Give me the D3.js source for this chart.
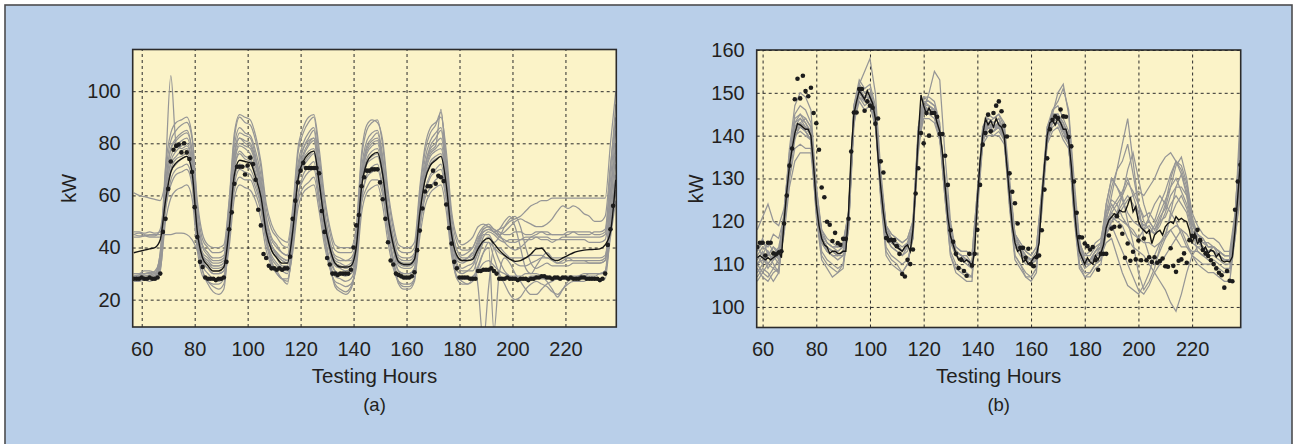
<!DOCTYPE html>
<html>
<head>
<meta charset="utf-8">
<script src="https://cdn.jsdelivr.net/npm/d3@7"></script>
<style>
  body { margin: 0; background: #fff; }
  svg text { font-family: "Liberation Sans", Arial, Helvetica, sans-serif; fill: #231f20; }
</style>
</head>
<body>
<svg id="chart" width="1299" height="444"></svg>
<script>
// ---------- data ----------
var xTicks = [60, 80, 100, 120, 140, 160, 180, 200, 220];
var yTicksA = [20, 40, 60, 80, 100];
var yTicksB = [100, 110, 120, 130, 140, 150, 160];

// panel (a): ensemble runs and mean on a 2-hour grid (57..239), measured kW hourly (57..238)
var hoursA = d3.range(57, 240, 2);
var dotHoursA = d3.range(57, 239);

var actualA = [
  28,28,28,28.5,28,28,28.5,28,28,28.5,
  30,46,51,62.5,73,77.5,79,79.5,76.5,80,
  76.5,74,69,55.5,44,34.5,32.5,28.5,28,28,
  28,27.5,28,28,28.5,34.5,47,53.5,64.5,71,
  71,71,68,71.5,74.5,72,66,54.5,48.5,37.5,
  36,33,32,32,31.5,32,31.5,32,32,36.5,
  51,58,65,69.5,72.5,70.5,70.5,70.5,70.5,70.5,
  68.5,54,46,36,33.5,30,30,29.5,30,30,
  30,30,31.5,40,48.5,52.5,63.5,67,69.5,69.5,
  70,70,70,65,58.5,51,42,35,33.5,30,
  29.5,29,28.5,28.5,28.5,29,30.5,39,46.5,55,
  61.5,63.5,63.5,69.5,64.5,67.5,67,65.5,56.5,47.5,
  41.5,34.5,32,28.5,28.5,28.5,28.5,28,28,28,
  31,31,31.5,31.5,31.5,32,31,30,28,28,
  28,28.5,28,28,28,27.5,28,28,28,27.5,
  28,28,28.5,28.5,29,29,28.5,28.5,28,28.5,
  28.5,28,28.5,28.5,28,28.5,28,28,28,28.5,
  28.5,28,28,28,28,28,27.5,28,30,41,
  47,56
];

var meanA = [
  38,38.5,39,39.5,40, 43,
  58,69,72.5,74,75,69,46,36, 33,31,31,32.5,
  47,68,73.5,73,72.5,67,59.5,46, 39,36,34,34,
  46,66,73,76,77,65,50,40, 34,32.5,32.5,33,
  40,63,72.5,75.5,76.5,68,52,41, 34.5,33.5,33.5,35.5,
  53,66,71.5,73.5,75,64,45,37,
  35,35,35.5,39.5,42.5,43.5,41.5,39,37,35.5,34.7,35,36,37.5,39.5,39.7,37.5,35.5,35,36,37,38,38.6,39,39.2,39.3,39.5,
  41,46,66
];

var runsA = [
  [28,28,28.5,28,28.5, 34, 60,73,77,79,80,73,47,35, 32,30,30,31, 49,73,80,79,78,72,63,47, 39,36,33,33, 45,67,75,79,81,66,49,38, 31,30,30,30, 38,65,76,79,80,70,51,39, 31,30,30,32, 53,69,76,78,80,66,44,34,
   31,31,31,36,42,44,40,35,31,29,28,28,28,29,29,28,28,28,28,28,29,29,29,29,30,30,30, 31,52,72],
  [29,29.5,30,30,31, 36, 65,78,82,84,85,77,52,40, 37,35,35,36, 54,79,86,84,83,77,68,52, 44,41,38,37, 50,72,80,84,86,72,54,43, 36,35,35,35, 43,70,81,84,85,75,56,44, 36,35,35,37, 58,74,81,84,86,71,49,39,
   36,36,37,42,47,48,46,47,50,52,48,40,32,30,33,36,38,36,34,35,36,35,35,35,34,34,34, 35,60,80],
  [28,27.5,28,28.5,28, 31, 54,66,70,71,72,66,42,31, 27,25,24,26, 44,66,72,71,70,65,57,42, 34,30,28,27, 40,60,68,71,73,60,44,33, 26,24,23,25, 34,58,68,71,72,63,46,34, 27,25,25,28, 48,62,68,70,72,60,39,29,
   27,26,27,32,38,42,36,30,26,22,20,21,24,26,27,26,25,23,22,24,26,27,27,27,28,28,28, 28,46,62],
  [30,30,31,31,30.5, 38, 68,81,85,87,88,82,56,43, 40,38,38,39, 57,82,90,88,87,81,71,55, 47,44,41,40, 53,76,84,88,90,75,58,46, 39,38,38,38, 46,74,85,88,89,79,60,47, 39,38,38,40, 61,77,84,87,92,74,52,42,
   39,39,40,45,48,49,47,46,45,45,46,46,45,45,46,46,45,45,45,45,46,46,45,45,45,46,46, 47,70,95],
  [45,45.5,45,44.5,44.5, 47, 62,72,75,77,78,71,49,37, 34,32,32,33, 50,72,79,78,76,71,62,48, 41,37,35,34, 46,67,74,77,78,66,50,39, 33,32,31,32, 40,65,74,77,78,69,52,40, 33,32,32,34, 54,68,75,77,78,66,45,35,
   34,35,36,41,46,47,46,44,43,42,42,43,44,44,44,44,44,43,43,44,44,44,44,44,44,44,44, 45,62,85],
  [46,46,45.5,46,45.5, 46, 56,64,68,69,70,64,43,33, 30,28,27,29, 44,64,70,69,68,63,56,43, 36,33,31,30, 41,60,66,69,70,59,44,34, 29,28,27,28, 35,58,67,69,70,62,46,35, 29,28,28,30, 48,61,67,69,70,59,40,31,
   30,31,33,38,44,46,45,43,42,43,43,43,43,43,44,43,43,42,43,43,43,43,43,43,42,42,42, 43,58,75],
  [45,44.5,44.5,44,44, 44, 45,45,45.5,45.5,45,43,39,34, 32,30,30,31, 44,62,67,66,66,61,54,43, 37,34,32,31, 41,58,63,65,67,57,44,35, 31,30,29,30, 36,57,63,66,66,60,46,36, 31,30,30,32, 48,59,63,66,67,58,41,33,
   32,33,34,38,42,42,40,38,37,36,36,36,36,37,37,37,36,36,36,36,36,36,36,36,36,36,36, 37,52,68],
  [61,60,59.5,59,58.5, 58, 65,75,79,81,82,75,52,41, 38,36,36,37, 53,76,82,81,80,74,66,51, 43,40,38,37, 49,70,78,81,82,70,54,42, 37,36,35,36, 42,68,78,81,82,73,55,43, 37,36,36,38, 56,71,78,80,82,70,48,39,
   37,38,40,44,46,47,46,47,48,50,51,52,54,56,57,58,58,59,59,59,59,59,59,59,59,59,59, 59,80,100],
  [28,28,28,28.5,29, 35, 70,106,80,78,79,72,48,37, 34,33,33,34, 51,75,82,80,79,73,64,49, 41,38,36,35, 47,68,76,80,82,68,51,40, 34,33,32,33, 41,67,77,80,81,72,54,41, 34,33,33,35, 55,71,77,79,93,68,46,36,
   35,36,38,25,4,25,40,40,38,36,34,33,33,34,35,36,36,35,34,34,35,35,35,35,35,35,35, 36,55,78],
  [29,29,29.5,29,29.5, 32, 50,59,62,63,64,59,39,29, 27,26,26,28, 40,59,64,63,62,58,51,39, 33,30,28,28, 38,55,61,63,64,54,41,32, 27,26,25,26, 32,53,61,63,64,56,42,32, 27,26,26,28, 44,56,61,63,64,54,37,29,
   28,28,29,31,34,35,33,31,30,29,29,29,30,30,30,29,27,24,21,24,27,28,29,30,30,30,30, 31,44,58],
  [28.5,29,29,29.5,30, 38, 71,84,88,89,90,83,58,45, 41,40,40,41, 58,84,91,90,89,83,73,57, 49,45,43,42, 55,78,86,90,91,78,60,48, 41,40,40,40, 48,76,87,89,88,81,62,49, 41,40,40,42, 63,79,86,88,90,77,54,44,
   41,42,44,48,49,48,46,45,46,48,50,51,50,49,48,48,49,51,54,56,55,56,55,53,52,50,50, 52,72,90],
  [44,44,44.5,45,45, 45, 60,69,72,74,75,69,48,38, 36,34,34,35, 50,70,76,74,73,68,60,48, 41,38,36,35, 46,65,71,74,76,64,50,40, 35,34,33,34, 41,63,72,74,75,67,51,41, 35,34,34,36, 53,66,72,74,75,64,45,36,
   35,35,36,40,45,45,42,44,48,51,52,48,40,34,32,33,34,33,33,33,33,34,34,34,34,34,34, 35,50,66],
  [27,27,27.5,27,28, 33, 62,78,81,83,84,77,46,31, 26,23,22,24, 46,75,84,83,82,75,64,45, 35,31,28,26, 42,69,78,82,85,68,47,34, 25,23,22,24, 35,66,79,82,84,72,50,35, 26,24,24,27, 52,71,79,82,85,68,40,28,
   26,26,28,33,38,40,8,30,36,34,30,27,24,22,22,24,26,27,28,28,28,28,29,29,29,29,30, 30,48,62],
  [30,30,30,30.5,30, 36, 58,70,74,75,76,70,47,37, 35,33,33,34, 49,70,77,75,74,69,61,48, 41,37,35,34, 46,66,72,75,77,65,50,39, 34,33,32,33, 40,64,73,75,76,68,52,40, 34,33,33,35, 53,67,73,75,76,65,45,36,
   35,36,38,43,47,48,47,45,42,40,39,40,42,44,45,46,46,45,45,45,45,46,46,46,46,45,45, 46,66,88]
];

// panel (b): ensemble runs on a 2-hour grid (58..238), mean and measured kW hourly (58..238)
var hoursB = d3.range(58, 239, 2);
var hourlyB = d3.range(58, 239);

var actualB = [
  114,115,115,112,115,115,112.5,112.3,112.7,113,
  119.5,126,133,137,148.5,153.3,148.7,154,150.4,149.2,
  151.2,145.3,142.9,136.7,127.9,125.6,119.9,119.2,115.4,117.3,
  114.9,114.5,115.9,115.9,120.6,136.3,145.4,145.4,150.9,150.9,
  145.8,148,147,146.5,142.8,144,134,131.4,116.1,115.5,
  115.7,115.6,114.2,112.4,107.7,107.1,111,110,113.4,126.5,
  132.4,140.6,138.2,145.3,140,145.3,145.3,144.4,140.4,140.4,
  135.3,128.5,117.9,115.2,112.4,109.1,111,108.4,107.3,112.4,
  109.7,112.4,118,128.5,137.9,140.6,144.9,141,145.3,147,
  148,145.7,142.3,139.8,131.2,126.9,124.2,119.5,113.8,113.8,
  111.5,113.6,110,109.5,111.6,112,117.9,127.4,134.7,141.5,
  143.7,144.5,144.1,146.1,144.5,144.4,139.7,137.5,129.3,122,
  116.3,116.2,114.8,114.2,113.4,114,110.9,108.7,112.4,112.4,
  112.4,116.7,118.3,118.7,121.2,118.8,117.1,111.5,114.8,110.8,
  112.9,111.1,115.5,110.9,116,110.9,111.6,110.5,111.6,110.3,
  110.7,111.3,109.5,109.4,113.7,109.6,108.2,110.8,111.1,112.5,
  110.3,115.6,116.6,116.4,118,115.6,113.3,112.5,111.9,110.9,
  110,109,108,107.4,104.5,108.4,106.1,106,122.7,129.3,
  133.2
];

var meanB = [
  111.5,112,111.5,111,111.5,111,111.5,112,113,111.5,
  120,127,133,137,140.5,142.8,142.5,142,141.5,141.5,
  140,133,124,119,116,114.5,114,112.5,113,113,
  112.5,112.5,113,113,122,136,145,148,150.5,149.5,
  148.5,150.5,149,147.5,144,135,128,122,117.5,116,
  115.5,114.5,114,113.5,113,114,114.5,113,118,128,
  140,149.5,147,145,146.5,145,145.5,143,141,136,
  128,121,116.5,114.5,112.5,111,111.5,110.5,111,110.5,
  109.5,113,125,134,140,144,142.5,143.5,142,144,
  142.5,142,140,133,126,119,115,113,113.5,110.5,
  111,110,110.5,111.5,112,115,125,133,140,143,
  143.5,142.5,144,143,141.5,141.5,139,133,124,117,
  113,111.5,110,111.5,110.5,110,112,111,112.5,114.5,
  118.5,120.3,121,121.8,121.4,122.6,122.2,122.2,123.8,125.7,
  122.2,123.4,120,118.5,117.9,117.2,117.9,114.8,116.8,117.5,
  117.9,116.8,118.7,119.5,119.9,119.5,121.1,120.3,120.7,120.2,
  119.9,117.9,114.8,117.2,114.8,115.6,113.3,114,112.5,113.3,
  113,111.7,112.5,110.9,110.5,110.7,110.5,111.7,117.9,125.7,
  134.3
];

var runsB = [
  [110,112,109,111,112, 121,134,142,143,141,139,123,115, 113,112,111,112, 121,146,151,149,150,145,127,116, 114,113,112,113, 119,141,148,147,146,140,127,115, 112,111,110,109, 126,141,143,141,143,140,125,114, 112,110,110,111, 126,141,144,145,142,139,123,112,
   109,110,112,113,119,123,125,127,130,126,122,118,119,117,120,121,124,126,124,122,117,115,114,113,114,112,111,111, 119,136],
  [107,109,108,106,108, 118,135,145,147,146,143,125,113, 111,110,109,110, 118,147,153,151,152,147,126,114, 112,111,110,111, 116,142,149,149,148,143,126,113, 110,109,108,107, 124,142,145,144,145,142,124,112, 110,108,107,109, 124,142,146,147,144,141,122,110,
   108,108,110,111,120,126,132,138,144,134,124,116,112,110,113,116,122,128,131,126,118,113,112,111,111,110,109,109, 117,140],
  [113,115,114,117,116, 121,130,137,138,137,137,126,118, 116,115,114,115, 122,143,148,146,147,142,130,119, 117,116,115,116, 120,138,144,144,143,139,130,118, 114,113,113,112, 127,138,140,140,140,138,128,117, 115,113,112,114, 127,138,141,142,139,137,126,115,
   112,112,114,115,121,124,122,124,126,124,121,119,120,118,121,123,128,133,135,130,121,117,115,115,114,113,112,112, 120,132],
  [110,108,110,109,111, 118,130,139,143,144,142,128,117, 113,112,112,113, 118,142,152,155,158,150,132,119, 116,114,113,114, 116,136,146,150,155,153,135,120, 113,112,111,110, 122,138,143,144,145,143,130,117, 114,112,111,112, 122,138,145,150,152,145,128,115,
   111,111,113,115,124,130,128,126,120,115,108,104,106,109,114,117,121,124,126,123,118,116,114,113,113,112,111,111, 121,142],
  [109,107,106,108,109, 119,133,140,141,140,139,121,111, 109,107,108,109, 119,144,149,147,148,143,125,112, 110,109,108,110, 117,139,146,145,144,139,125,112, 108,107,106,106, 124,139,141,140,141,139,123,111, 109,107,106,108, 124,139,142,143,140,138,121,109,
   107,107,109,110,117,119,116,113,110,107,104,103,105,108,110,112,114,116,118,115,112,110,109,108,108,107,106,106, 116,128],
  [118,121,124,120,119, 123,135,143,145,143,141,126,117, 115,114,114,115, 122,146,152,150,150,146,130,119, 117,116,115,116, 120,142,149,148,147,142,130,118, 114,113,113,112, 127,142,144,143,144,141,128,117, 115,113,112,114, 127,142,145,145,143,140,126,115,
   112,113,115,116,122,125,124,126,129,127,124,121,122,120,124,127,131,134,133,129,122,119,117,116,116,115,113,113, 122,140],
  [111,113,110,112,110, 117,128,134,136,136,136,123,116, 114,113,112,113, 120,144,150,149,149,145,129,118, 116,115,113,114, 118,140,147,147,146,141,129,117, 113,112,111,110, 125,140,143,142,143,140,127,116, 114,112,111,112, 124,140,146,148,151,146,130,116,
   110,111,112,112,117,120,122,126,132,136,130,124,120,118,120,124,130,134,132,128,120,116,114,113,113,112,111,111, 118,130],
  [112,110,112,114,113, 120,134,142,144,143,140,124,116, 114,113,112,113, 120,145,151,149,149,144,128,117, 115,114,113,115, 118,140,147,146,146,141,128,116, 112,111,111,110, 125,140,142,142,142,140,126,115, 113,111,110,112, 125,140,143,144,141,139,124,113,
   110,110,112,113,118,121,120,119,116,114,113,112,110,108,106,104,101,99,103,108,112,114,114,113,113,112,111,111, 117,133],
  [108,110,113,110,108, 121,134,143,144,142,140,124,115, 113,112,112,112, 121,145,150,148,149,144,128,116, 114,113,112,114, 118,140,147,146,145,141,128,116, 112,111,110,109, 125,141,143,142,143,140,126,115, 113,111,110,111, 125,141,144,144,142,139,124,113,
   110,111,113,114,120,122,121,123,125,126,127,126,128,130,133,135,136,134,131,127,120,116,115,114,114,113,112,112, 120,146],
  [110,111,110,112,114, 120,132,140,142,141,139,123,116, 114,113,112,113, 119,144,149,148,148,143,127,117, 115,114,113,114, 117,139,146,146,145,140,127,116, 112,111,111,109, 124,139,142,141,142,139,125,115, 113,111,110,112, 124,139,143,143,141,138,123,113,
   110,110,111,112,115,116,112,108,105,104,103,105,108,112,115,117,118,116,114,114,113,113,112,112,112,111,110,110, 117,130],
  [113,116,112,114,112, 122,136,144,145,144,142,126,117, 115,114,114,114, 122,147,152,150,151,146,130,118, 116,115,114,115, 119,141,148,148,147,142,129,117, 113,112,112,110, 126,141,144,143,144,141,127,116, 114,112,111,113, 126,141,145,145,143,140,125,114,
   111,111,113,114,122,128,132,134,138,131,124,120,118,117,119,122,126,128,128,126,120,117,116,114,114,113,112,112, 121,138],
  [106,108,107,109,108, 119,133,141,142,141,139,122,112, 110,109,108,110, 118,145,150,148,148,143,126,113, 111,110,108,110, 116,140,147,145,145,140,125,112, 109,108,107,107, 123,140,142,141,142,139,124,112, 110,107,107,109, 123,140,143,143,141,138,122,110,
   107,108,110,111,118,122,124,121,119,117,116,118,121,124,126,124,122,120,117,114,112,111,110,110,110,109,108,108, 116,126],
  [112,114,113,111,113, 120,133,141,143,142,140,124,116, 114,113,113,114, 121,145,151,148,149,145,129,117, 116,114,113,114, 118,140,147,146,146,141,128,116, 113,112,111,110, 125,140,143,142,142,140,126,115, 113,111,111,112, 125,140,144,144,142,139,124,113,
   111,111,112,114,124,130,128,125,122,120,119,118,117,119,122,125,128,130,127,124,119,117,116,114,114,113,112,112, 120,137],
  [114,112,115,113,111, 122,137,147,150,149,146,128,118, 115,114,113,114, 121,146,151,149,150,145,129,117, 115,114,113,115, 118,141,148,147,146,141,128,116, 113,112,111,110, 125,141,143,142,143,140,127,116, 113,112,111,112, 125,140,144,144,142,139,124,114,
   110,111,112,113,117,120,121,120,119,118,116,115,115,114,115,116,118,119,118,117,115,114,113,113,113,112,111,111, 118,131]
];

// ---------- drawing ----------
var svg = d3.select('#chart');

svg.append('rect')
  .attr('x', 5).attr('y', 5)
  .attr('width', 1287).attr('height', 460)
  .attr('fill', '#b9cfe9')
  .attr('stroke', '#4d4d4f')
  .attr('stroke-width', 1.6);

function drawPanel(p) {
  var w = p.right - p.left, h = p.bottom - p.top;
  var g = svg.append('g').attr('transform', 'translate(' + p.left + ',' + p.top + ')');

  var x = d3.scaleLinear().domain(p.xDomain).range([0, w]);
  var y = d3.scaleLinear().domain(p.yDomain).range([h, 0]);

  g.append('rect').attr('width', w).attr('height', h).attr('fill', '#fbf3c8');

  // dashed grid
  var gx = g.append('g').attr('transform', 'translate(0,' + h + ')')
    .call(d3.axisBottom(x).tickValues(xTicks).tickSize(-h).tickFormat(''));
  var gy = g.append('g')
    .call(d3.axisLeft(y).tickValues(p.yTicks).tickSize(-w).tickFormat(''));
  [gx, gy].forEach(function(a) {
    a.select('.domain').remove();
    a.selectAll('line').attr('stroke', '#2b2b2b').attr('stroke-width', 1).attr('stroke-dasharray', '3,3');
  });

  var clipId = 'clip-' + p.name;
  g.append('clipPath').attr('id', clipId)
    .append('rect').attr('width', w).attr('height', h);
  var plot = g.append('g').attr('clip-path', 'url(#' + clipId + ')');

  var grayLine = d3.line()
    .x(function(d, i) { return x(p.runHours[i]); })
    .y(function(d) { return y(d); })
    .curve(p.runCurve);

  plot.selectAll('path.run')
    .data(p.runs)
    .enter().append('path')
    .attr('class', 'run')
    .attr('d', grayLine)
    .attr('fill', 'none')
    .attr('stroke', '#969696')
    .attr('stroke-width', 1.25);

  var meanLine = d3.line()
    .x(function(d, i) { return x(p.meanHours[i]); })
    .y(function(d) { return y(d); })
    .curve(p.meanCurve);

  plot.append('path')
    .datum(p.mean)
    .attr('d', meanLine)
    .attr('fill', 'none')
    .attr('stroke', '#151515')
    .attr('stroke-width', 1.4);

  plot.selectAll('circle')
    .data(p.actual)
    .enter().append('circle')
    .attr('cx', function(d, i) { return x(p.dotHours[i]); })
    .attr('cy', function(d) { return y(d); })
    .attr('r', 2.3)
    .attr('fill', '#1c1c1c');

  g.append('rect').attr('width', w).attr('height', h)
    .attr('fill', 'none').attr('stroke', '#2b2b2b').attr('stroke-width', 1.6);

  // tick labels
  var ax = g.append('g').attr('transform', 'translate(0,' + h + ')')
    .call(d3.axisBottom(x).tickValues(xTicks).tickSize(0).tickPadding(14.5));
  var ay = g.append('g')
    .call(d3.axisLeft(y).tickValues(p.yTicks).tickSize(0).tickPadding(12));
  [ax, ay].forEach(function(a) {
    a.select('.domain').remove();
    a.attr('font-family', null).attr('font-size', null);
    a.selectAll('text').attr('font-size', '20px').attr('fill', '#231f20');
  });

  g.append('text')
    .attr('x', w / 2).attr('y', 383 - p.top)
    .attr('text-anchor', 'middle')
    .attr('font-size', '20.5px')
    .text('Testing Hours');

  g.append('text')
    .attr('x', w / 2).attr('y', 411 - p.top)
    .attr('text-anchor', 'middle')
    .attr('font-size', '18.5px')
    .text(p.label);

  g.append('text')
    .attr('transform', 'translate(' + (p.kwX - p.left) + ',' + (h / 2) + ') rotate(-90)')
    .attr('text-anchor', 'middle')
    .attr('font-size', '20px')
    .text('kW');
}

drawPanel({
  name: 'a', left: 132.7, right: 616.3, top: 49.5, bottom: 327,
  xDomain: [56.6, 239.2], yDomain: [9.5, 116], yTicks: yTicksA,
  runHours: hoursA, runs: runsA, runCurve: d3.curveMonotoneX,
  meanHours: hoursA, mean: meanA, meanCurve: d3.curveMonotoneX,
  dotHours: dotHoursA, actual: actualA,
  label: '(a)', kwX: 76
});

drawPanel({
  name: 'b', left: 756.7, right: 1240.7, top: 50, bottom: 327.5,
  xDomain: [57.8, 238.1], yDomain: [95.2, 160], yTicks: yTicksB,
  runHours: hoursB, runs: runsB, runCurve: d3.curveLinear,
  meanHours: hourlyB, mean: meanB, meanCurve: d3.curveLinear,
  dotHours: hourlyB, actual: actualB,
  label: '(b)', kwX: 703
});
</script>
</body>
</html>
